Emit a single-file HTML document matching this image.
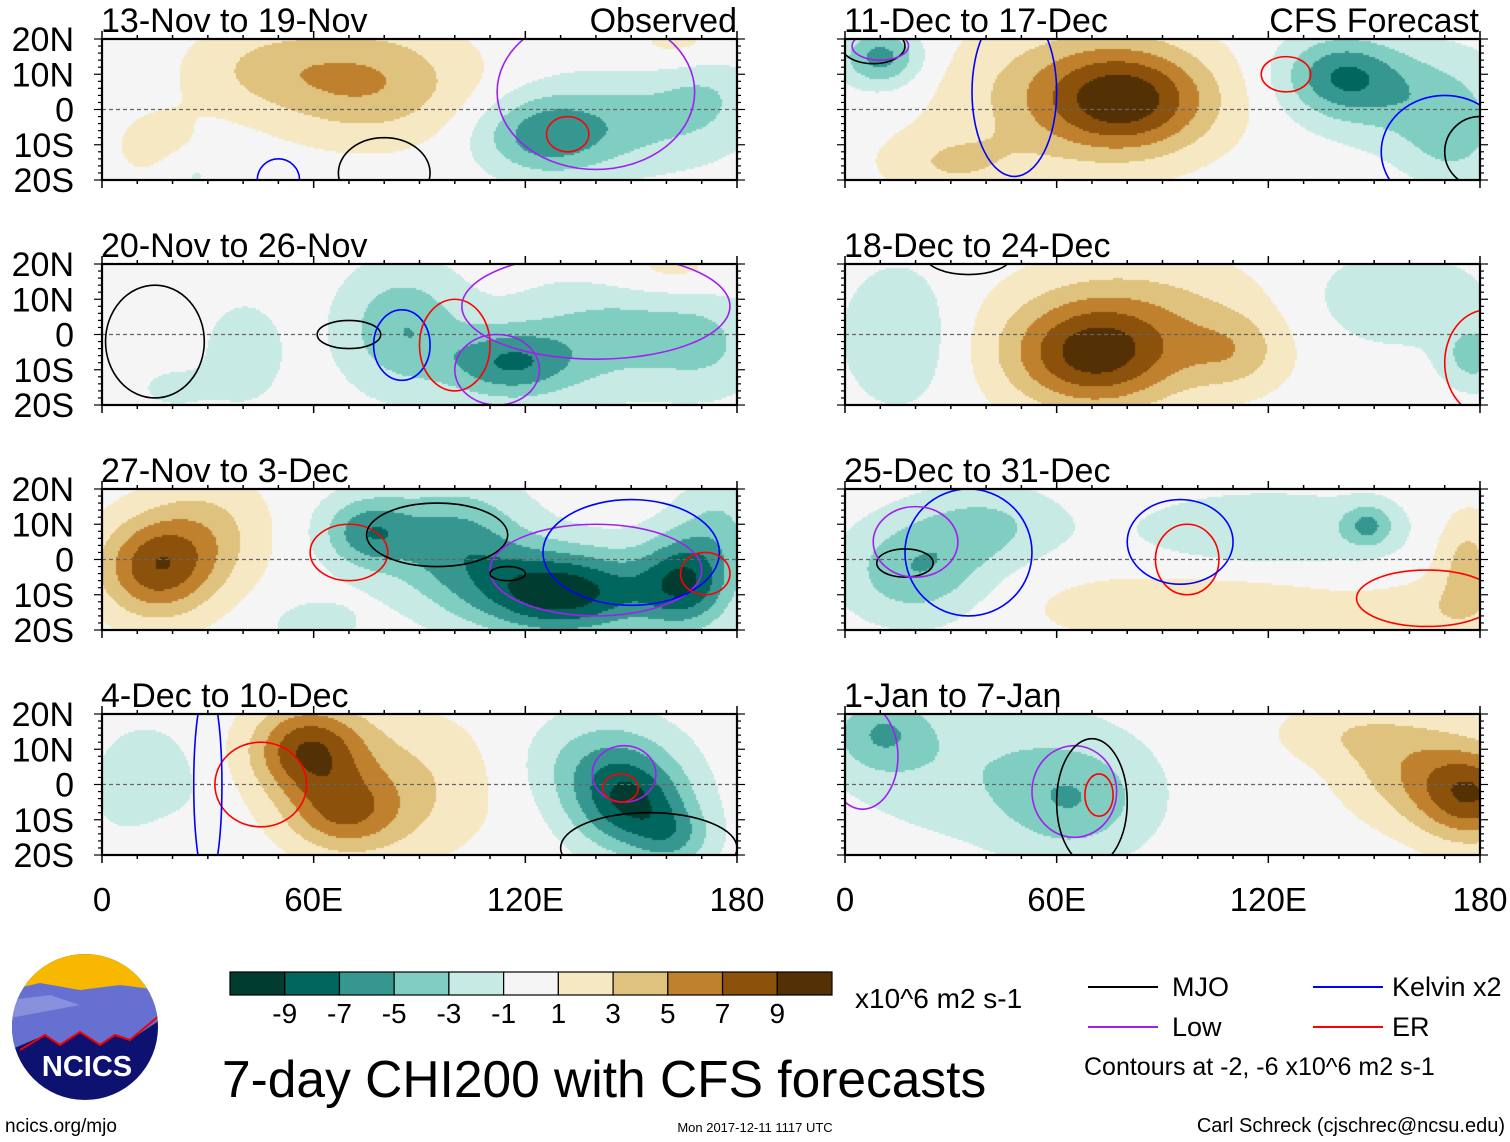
<!DOCTYPE html>
<html><head><meta charset="utf-8">
<style>
body{margin:0;background:#fff;width:1510px;height:1142px;position:relative;overflow:hidden;font-family:"Liberation Sans",sans-serif}
canvas{position:absolute}
</style></head><body>
<svg id="frame" width="1510" height="1142" style="position:absolute;left:0;top:0"></svg>
<script>
// ---- data ----
const binEdges=[-9,-7,-5,-3,-1,1,3,5,7,9];
const binColors=["#003c30","#01665e","#35978f","#80cdc1","#c7eae5","#f5f5f5","#f6e8c3","#dfc27d","#bf812d","#8c510a","#543005"];
const colorbarLabels=["-9","-7","-5","-3","-1","1","3","5","7","9"];
const panelTitles=["13-Nov to 19-Nov","20-Nov to 26-Nov","27-Nov to 3-Dec","4-Dec to 10-Dec","11-Dec to 17-Dec","18-Dec to 24-Dec","25-Dec to 31-Dec","1-Jan to 7-Jan"];
const latLabels=["20N","10N","0","10S","20S"];
const latTicks=[20,10,0,-10,-20];
const lonTicks=[0,60,120,180];
const lonLabels=["0","60E","120E","180"];
// anomaly blobs per panel: [lon, lat, amplitude, lonSpread, latSpread]
const blobs0=[[75,8,5,28,16],[45,12,2.5,22,12],[15,-10,1.6,14,12],[165,18,2,18,7],[125,-7,-5.8,18,11],[150,-3,-3.2,25,14],[172,5,-2.2,15,14],[25,-18,-1.6,9,6]];
const blobs1=[[85,2,-4.8,17,17],[115,-8,-6.3,18,10],[145,0,-3.8,28,16],[172,-3,-2.2,15,14],[40,-5,-2.4,11,14],[160,18,2,20,7],[20,-15,-1.4,12,7]];
const blobs2=[[15,-2,8,16,14],[30,8,3.2,17,16],[75,8,-5.8,13,10],[100,5,-5.8,20,16],[130,-9,-10.5,25,12],[165,-6,-8,13,13],[175,10,-2.8,12,14],[60,-18,-2,13,7]];
const blobs3=[[58,10,8.5,16,13],[68,-8,5.5,16,11],[85,0,3.2,25,20],[150,-6,-7.5,16,13],[142,6,-4.3,20,14],[12,0,-2.7,14,16],[162,-15,-3.8,11,9],[20,-15,1.6,12,7]];
const blobs4=[[80,3,8.5,24,15],[60,5,3.2,34,20],[140,10,-6,16,11],[162,4,-3.8,25,14],[10,15,-6,11,8],[172,-10,-2.8,14,11],[30,-15,2.8,20,9]];
const blobs5=[[70,-6,8.5,24,15],[85,5,3.2,38,18],[110,-5,3,14,11],[15,0,-2.7,16,20],[155,10,-2.4,28,14],[178,-6,-3.8,9,9]];
const blobs6=[[20,-3,-4.8,20,14],[40,10,-3.2,20,11],[120,8,-2.7,38,11],[148,10,-4.3,7,6],[100,-13,2.4,50,11],[176,0,3.8,9,14],[170,-15,2,20,9]];
const blobs7=[[10,15,-4.3,14,11],[65,-5,-3.8,20,15],[40,5,-2.5,38,20],[178,-3,8,16,13],[160,5,3.8,20,15],[140,15,2,20,9]];
// contours per panel: [type, lon, lat, rx(deg), ry(deg)]
const cont0=[["mjo",80,-18,13,10],["kelvin",50,-20,6,6],["low",140,5,28,22],["er",132,-7,6,5]];
const cont1=[["mjo",70,0,9,4],["mjo",15,-2,14,16],["kelvin",85,-3,8,10],["er",100,-3,10,13],["low",140,8,38,15],["low",112,-10,12,10]];
const cont2=[["er",70,2,11,8],["mjo",95,7,20,9],["low",140,-3,30,13],["kelvin",150,2,25,15],["er",171,-4,7,6],["mjo",115,-4,5,2]];
const cont3=[["er",45,0,13,12],["kelvin",30,0,4,28],["low",148,3,9,8],["er",147,-1,5,4],["mjo",155,-18,25,10]];
const cont4=[["kelvin",48,5,12,24],["mjo",8,18,9,5],["low",10,18,8,4],["er",125,10,7,5],["kelvin",170,-12,18,16],["mjo",180,-12,10,10]];
const cont5=[["mjo",35,22,12,5],["er",182,-8,12,15]];
const cont6=[["kelvin",35,2,18,18],["mjo",17,-1,8,4],["er",97,0,9,10],["kelvin",95,5,15,12],["er",165,-11,20,8],["low",20,5,12,10]];
const cont7=[["low",65,-2,12,13],["mjo",70,-5,10,18],["er",72,-3,4,6],["low",5,8,10,15]];
const allBlobs=[blobs0,blobs1,blobs2,blobs3,blobs4,blobs5,blobs6,blobs7];
const allCont=[cont0,cont1,cont2,cont3,cont4,cont5,cont6,cont7];
const contColors={mjo:"#000",low:"#a020f0",kelvin:"#0000ff",er:"#ff0000"};
// ---- layout ----
const colX=[102,845], rowY=[39,264,489,714], PW=635, PH=141;
function xs(lon,px){return px+lon/180*PW;}
function ys(lat,py){return py+(20-lat)/40*PH;}
function colorOf(v){let i=0;while(i<binEdges.length&&v>binEdges[i])i++;return binColors[i];}
const NS="http://www.w3.org/2000/svg";
const svg=document.getElementById('frame');
function mk(tag,attrs,parent){const e=document.createElementNS(NS,tag);for(const k in attrs)e.setAttribute(k,attrs[k]);(parent||svg).appendChild(e);return e;}
function txt(s,x,y,size,anchor,name){const e=mk('text',{x:x,y:y,'font-size':size,'text-anchor':anchor||'start','font-family':'Liberation Sans, sans-serif'});e.textContent=s;


return e;}
const defs=mk('defs',{});
for(let p=0;p<8;p++){
  const px=colX[p<4?0:1], py=rowY[p%4];
  const cp=mk('clipPath',{id:'pc'+p},defs);mk('rect',{x:px,y:py,width:PW,height:PH},cp);
  const cv=document.createElement('canvas');cv.width=PW;cv.height=PH;cv.style.left=px+'px';cv.style.top=py+'px';
  
  
  document.body.insertBefore(cv,svg);
  const ctx=cv.getContext('2d');const B=allBlobs[p];
  for(let j=0;j<PH;j+=2)for(let i=0;i<PW;i+=2){
    const lon=i/PW*180,lat=20-j/PH*40;let v=0;
    for(const b of B){const dx=(lon-b[0])/b[3],dy=(lat-b[1])/b[4];v+=b[2]*Math.exp(-(dx*dx+dy*dy));}
    ctx.fillStyle=colorOf(v);ctx.fillRect(i,j,2,2);
  }
  const g=mk('g',{});
  
  
  const gc=mk('g',{'clip-path':'url(#pc'+p+')'},g);
  mk('line',{x1:px,x2:px+PW,y1:ys(0,py),y2:ys(0,py),stroke:'#666','stroke-dasharray':'4,3','stroke-width':1.2},gc);
  for(const c of allCont[p]){
    const e=mk('ellipse',{cx:xs(c[1],px),cy:ys(c[2],py),rx:c[3]/180*PW,ry:c[4]/40*PH,fill:'none',stroke:contColors[c[0]],'stroke-width':1.6},gc);
    
    
  }
  mk('rect',{x:px,y:py,width:PW,height:PH,fill:'none',stroke:'#000','stroke-width':2.2},g);
  for(let lon=0;lon<=180;lon+=10){const x=xs(lon,px),L=lon%60==0?8:4;
    mk('line',{x1:x,x2:x,y1:py+PH,y2:py+PH+L,stroke:'#000','stroke-width':1.5},g);
    mk('line',{x1:x,x2:x,y1:py,y2:py-L,stroke:'#000','stroke-width':1.5},g);}
  for(let lat=-20;lat<=20;lat+=2){const y=ys(lat,py),L=lat%10==0?8:4;
    mk('line',{x1:px,x2:px-L,y1:y,y2:y,stroke:'#000','stroke-width':1.2},g);
    mk('line',{x1:px+PW,x2:px+PW+L,y1:y,y2:y,stroke:'#000','stroke-width':1.2},g);}
  txt(panelTitles[p],px-1,py-7,34,'start','panel-title');
  if(p<4) latTicks.forEach((l,k)=>txt(latLabels[k],74,ys(l,py)+12,34,'end','lat-label'));
  if(p==3||p==7) lonTicks.forEach((l,k)=>txt(lonLabels[k],xs(l,px),911,33,'middle','lon-label'));
}
txt('Observed',737,32,34,'end','observed-label');
txt('CFS Forecast',1479,32,34,'end','forecast-label');
// colorbar
const cbX=230,cbW=602/11;
binColors.forEach((c,i)=>{const r=mk('rect',{x:cbX+i*cbW,y:972,width:cbW,height:23,fill:c,stroke:'#000','stroke-width':1.2});

});
colorbarLabels.forEach((s,i)=>txt(s,cbX+(i+1)*cbW,1023,28,'middle','colorbar-label'));
txt('x10^6 m2 s-1',855,1008,28,'start','units-label');
txt('7-day CHI200 with CFS forecasts',222,1097,51.5,'start','chart-title');
// legend
[["MJO","#000",1088,987,1172],["Low","#a020f0",1088,1027,1172],["Kelvin x2","#0000ff",1313,987,1392],["ER","#ff0000",1313,1027,1392]].forEach(l=>{
  const ln=mk('line',{x1:l[2],x2:l[2]+70,y1:l[3],y2:l[3],stroke:l[1],'stroke-width':2});
  
  
  txt(l[0],l[4],l[3]+9,27,'start','legend-entry');});
txt('Contours at -2, -6 x10^6 m2 s-1',1084,1075,25,'start','contours-note');
txt('ncics.org/mjo',5,1132,19,'start','url-footer');
txt('Mon 2017-12-11 1117 UTC',755,1132,13,'middle','date-footer');
txt('Carl Schreck (cjschrec@ncsu.edu)',1505,1132,20,'end','author-footer');
// logo
const lg=mk('g',{});


mk('defs',{},lg).innerHTML='<clipPath id="cc"><circle cx="85" cy="1027" r="73"/></clipPath>';
const cg=mk('g',{'clip-path':'url(#cc)'},lg);
mk('rect',{x:10,y:950,width:150,height:160,fill:'#0d1170'},cg);
mk('rect',{x:10,y:950,width:150,height:55,fill:'#f8b800'},cg);
mk('path',{d:'M10 990 L40 983 L80 990 L120 985 L160 990 L160 1020 L130 1040 L115 1035 L100 1045 L80 1032 L60 1045 L45 1035 L10 1050Z',fill:'#6670d0'},cg);
mk('path',{d:'M10 1000 L50 995 L80 1005 L10 1018Z',fill:'#8890dd'},cg);
mk('path',{d:'M20 1050 L45 1035 L60 1045 L80 1032 L100 1045 L115 1035 L130 1040 L160 1015',fill:'none',stroke:'#e00','stroke-width':2},cg);
const nt=mk('text',{x:87,y:1076,'font-size':29,'font-weight':'bold',fill:'#fff','text-anchor':'middle','font-family':'Liberation Sans, sans-serif'},lg);nt.textContent='NCICS';


</script>
</body></html>
